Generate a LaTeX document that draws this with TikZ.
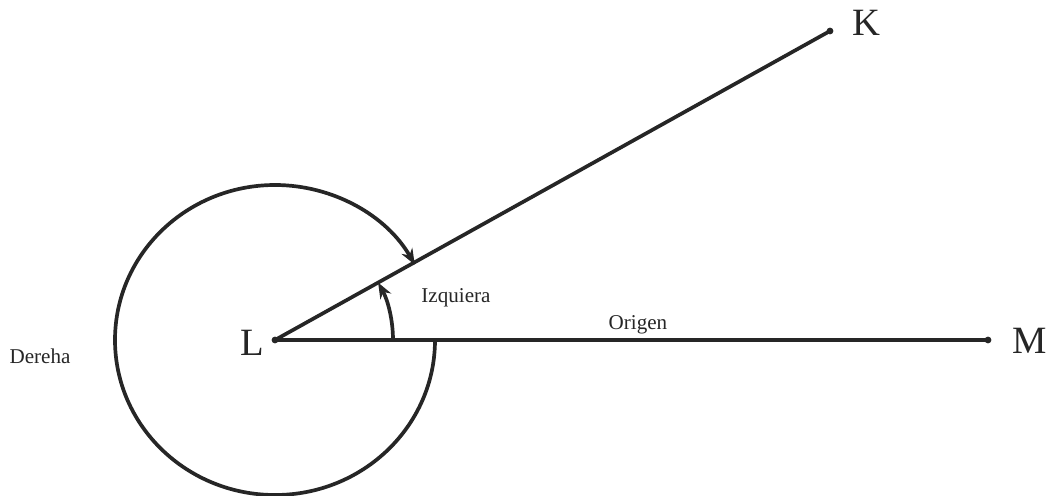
\documentclass[tikz,border=0pt]{standalone}
\usepackage{fontspec}
\setmainfont{Liberation Serif}
\usepackage{tikz}
\usetikzlibrary{arrows.meta,positioning,calc}

\begin{document}
\begin{tikzpicture}[
      x=0.02cm, y=0.02cm,
      ray/.style={draw=black!85, line width=2.1pt},
      angarrow/.style={draw=black!85, line width=2.1pt, -{Stealth[length=9pt,width=7pt]}},
      dot/.style={fill=black!85},
      point/.style={font=\fontsize{22}{25}\selectfont, text=black!85},
      note/.style={font=\fontsize{12}{14}\selectfont, text=black!85}]

    \useasboundingbox (0,0) rectangle (1051,495);

    \coordinate (L) at (275,155);
    \coordinate (M) at (988,155);
    \coordinate (K) at (830,464);

    \draw[ray] (L) -- (M);
    \draw[ray] (L) -- (K);
    \fill[dot] (L) circle[radius=3.4];
    \fill[dot] (M) circle[radius=3.4];
    \fill[dot] (K) circle[radius=3.4];

    \node[point] (lblL) at (252,152) {L};
    \node[point] (lblM) at (1030,154) {M};
    \node[point] (lblK) at (866,472) {K};

    % angles
    \draw[angarrow] ([shift={(0:118)}]L) arc[start angle=0, end angle=29.1, radius=118];
    \draw[angarrow] ([shift={(0:160)}]L) arc[start angle=0, end angle=-330.9,
      x radius=160, y radius=155];

    \node[note] (izq) at (456,197) {Izquiera};
    \node[note] (orig) at (638,170) {Origen};
    \node[note] (der) at (40,139) {Dereha};
  \end{tikzpicture}
\end{document}
